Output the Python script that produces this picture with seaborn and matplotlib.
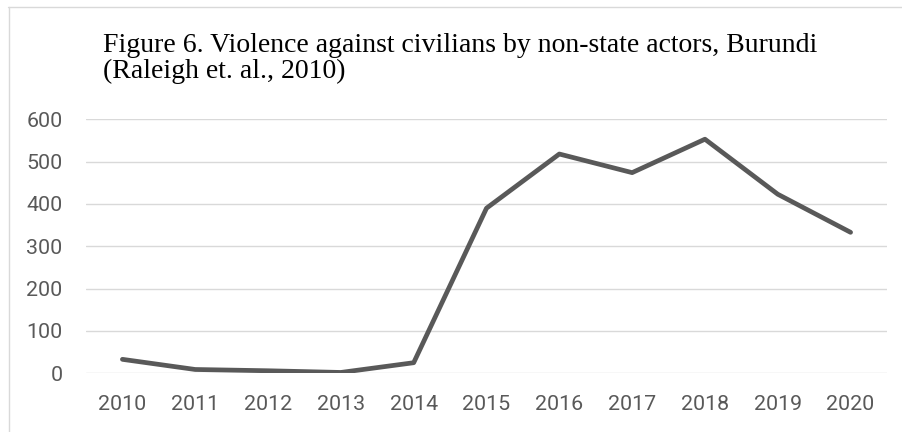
import matplotlib
matplotlib.use("Agg")
import matplotlib.pyplot as plt
import seaborn as sns
import pandas as pd
from matplotlib.lines import Line2D

years = ["2010", "2011", "2012", "2013", "2014", "2015", "2016", "2017", "2018", "2019", "2020"]
events = [33, 9, 6, 2, 25, 390, 518, 474, 553, 423, 333]
yticks = [0, 100, 200, 300, 400, 500, 600]
title_lines = ["Figure 6. Violence against civilians by non-state actors, Burundi",
               "(Raleigh et. al., 2010)"]

sns.set_theme(style="white")
plt.rcParams["font.family"] = ["Roboto", "DejaVu Sans"]

W, H = 903, 432
fig = plt.figure(figsize=(W / 100, H / 100), dpi=100)
ax = fig.add_axes([86 / W, 1 - 373.3 / H, (887 - 86) / W, (373.3 - 119.3) / H])

df = pd.DataFrame({"pos": range(len(years)), "val": events})
sns.lineplot(data=df, x="pos", y="val", ax=ax, color="#595959", linewidth=3.4,
             solid_capstyle="round", solid_joinstyle="round", zorder=3)

ax.set_xlim(-0.5, len(years) - 0.5)
ax.set_ylim(0, 600)
ax.set_xticks(range(len(years)))
ax.set_xticklabels(years)
ax.set_yticks(yticks)
ax.set_yticklabels([str(v) for v in yticks])
ax.set_xlabel("")
ax.set_ylabel("")
ax.grid(axis="y", color="#d9d9d9", linewidth=1.0)
ax.grid(axis="x", visible=False)
for s in ax.spines.values():
    s.set_visible(False)
ax.tick_params(axis="both", length=0, labelsize=15.4, colors="#595959")
ax.tick_params(axis="y", pad=17)
ax.tick_params(axis="x", pad=15.5)

for i, (line, base) in enumerate(zip(title_lines, [51.7, 77.7])):
    fig.text(103 / W, 1 - base / H, line, family=["Liberation Serif", "DejaVu Serif"],
             fontsize=19.95, color="black", ha="left", va="baseline")

# chart area border (top and left visible)
fig.add_artist(Line2D([8 / W, 902 / W], [1 - 6.5 / H, 1 - 6.5 / H], color="#d9d9d9", linewidth=1.0, transform=fig.transFigure))
fig.add_artist(Line2D([8.5 / W, 8.5 / W], [1 - 6.5 / H, 0], color="#d9d9d9", linewidth=1.0, transform=fig.transFigure))

fig.savefig("out.png", dpi=100)
